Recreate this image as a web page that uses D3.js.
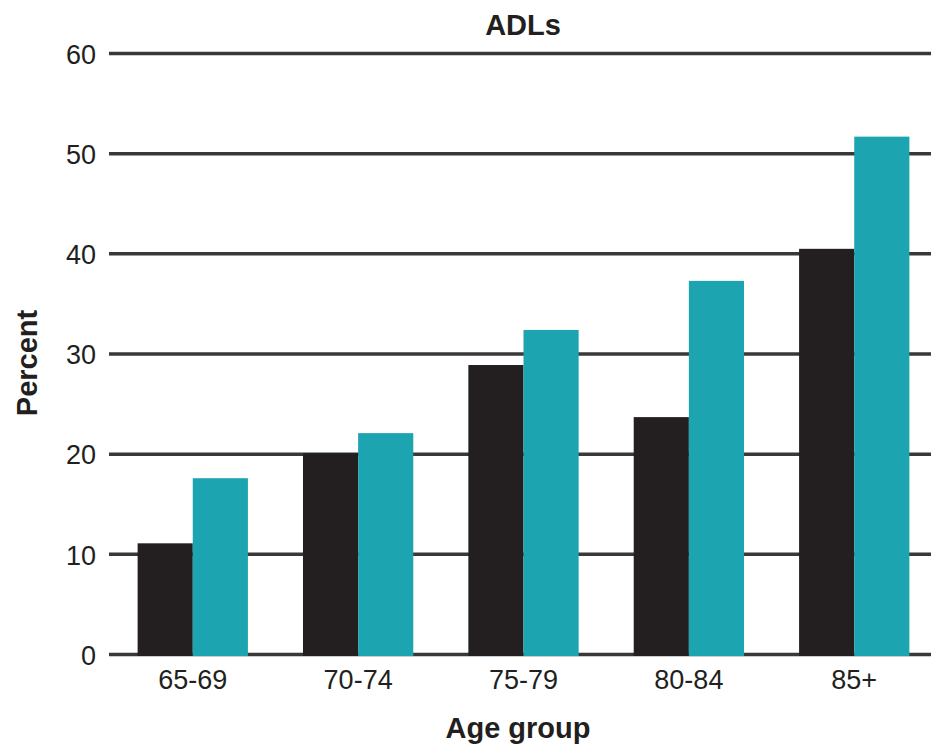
<!DOCTYPE html>
<html>
<head>
<meta charset="utf-8">
<script src="https://cdn.jsdelivr.net/npm/d3@7"></script>
<style>
  html, body { margin: 0; padding: 0; background: #fff; }
  svg { display: block; font-family: "Liberation Sans", Arial, Helvetica, sans-serif; }
</style>
</head>
<body>
<svg id="chart" width="931" height="745"></svg>
<script>
const categories = ["65-69", "70-74", "75-79", "80-84", "85+"];
const seriesNames = ["Series A", "Series B"];
const seriesA = [11.1, 20.1, 28.9, 23.7, 40.5];
const seriesB = [17.6, 22.1, 32.4, 37.3, 51.7];
const yTicks = [0, 10, 20, 30, 40, 50, 60];
const colors = ["#231f20", "#1da4b1"];
const title = "ADLs";
const xTitle = "Age group";
const yTitle = "Percent";

const W = 931, H = 745;
const svg = d3.select("#chart");

const x = d3.scaleBand().domain(categories).range([110, 937]).paddingInner(0.333).paddingOuter(0.167);
const xs = d3.scaleBand().domain(seriesNames).range([0, x.bandwidth()]);
const y = d3.scaleLinear().domain([0, 60]).range([654.5, 53.5]);

// y tick labels
const yAxis = d3.axisLeft(y).tickValues(yTicks).tickSize(0).tickPadding(14).tickFormat(d3.format("d"));
const gy = svg.append("g").attr("transform", "translate(110,0)").call(yAxis);
gy.select(".domain").remove();
gy.selectAll(".tick line").remove();
gy.selectAll(".tick text").attr("fill", "#231f20").attr("font-size", 27).attr("dy", "0.36em");

// gridlines
svg.append("g").selectAll("line").data(yTicks).join("line")
  .attr("x1", 109).attr("x2", W)
  .attr("y1", d => y(d)).attr("y2", d => y(d))
  .attr("stroke", "#3a3738").attr("stroke-width", 3.5);

// bars
const data = categories.map((c, i) => ({ c, vals: [seriesA[i], seriesB[i]] }));
const groups = svg.append("g").selectAll("g").data(data).join("g")
  .attr("transform", d => `translate(${x(d.c)},0)`);
groups.selectAll("rect").data(d => d.vals.map((v, j) => ({ s: seriesNames[j], v, j })))
  .join("rect")
  .attr("x", d => xs(d.s))
  .attr("width", xs.bandwidth())
  .attr("y", d => y(d.v))
  .attr("height", d => y(0) + 1.5 - y(d.v))
  .attr("fill", d => colors[d.j]);

// x axis labels
const xAxis = d3.axisBottom(x).tickSize(0).tickPadding(15);
const gx = svg.append("g").attr("transform", `translate(0,${y(0)})`).call(xAxis);
gx.select(".domain").remove();
gx.selectAll(".tick text").attr("fill", "#231f20").attr("font-size", 27);

// titles
svg.append("text").attr("x", 523).attr("y", 35).attr("text-anchor", "middle")
  .attr("font-size", 29).attr("font-weight", "bold").attr("fill", "#231f20").text(title);
svg.append("text").attr("x", 518).attr("y", 738).attr("text-anchor", "middle")
  .attr("font-size", 29).attr("font-weight", "bold").attr("fill", "#231f20").text(xTitle);
svg.append("text").attr("transform", "translate(37,363) rotate(-90)").attr("text-anchor", "middle")
  .attr("font-size", 29).attr("font-weight", "bold").attr("fill", "#231f20").text(yTitle);
</script>
</body>
</html>
